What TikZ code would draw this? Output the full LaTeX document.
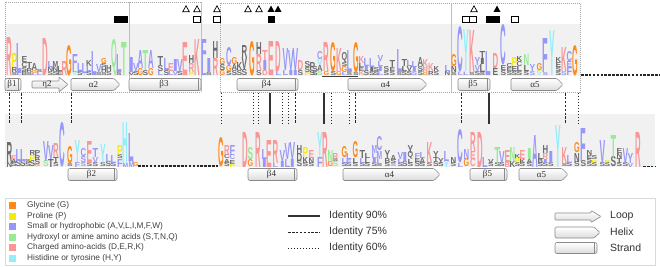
\documentclass[tikz,border=0pt]{standalone}
\usepackage{fontspec}
\setmainfont{Liberation Serif}
\setsansfont{Liberation Sans}
\usepackage{graphicx}
\definecolor{cG}{HTML}{FF8A1C}
\definecolor{cP}{HTML}{F5EA10}
\definecolor{cH}{HTML}{9797FA}
\definecolor{cO}{HTML}{96EB96}
\definecolor{cC}{HTML}{FA9696}
\definecolor{cY}{HTML}{92EEFA}
\definecolor{gr}{HTML}{6C6C6C}
\definecolor{band}{HTML}{F1F1F1}
\definecolor{ssedge}{HTML}{8A8A8A}
\newcommand\logocol[3]{%
  \xdef\stk{0}%
  \foreach \ltr/\hgt/\clr in {#3}{%
    \node[inner sep=0pt, outer sep=0pt, anchor=south, text=\clr] at (#2,{#1-\stk})
      {\resizebox{5.6pt}{\hgt pt}{\sffamily\bfseries\ltr}};
    \pgfmathparse{\stk+\hgt}\xdef\stk{\pgfmathresult}%
  }}
\newcommand\T[2]{\logocol{75.5}{#1}{#2}}
\newcommand\B[2]{\logocol{167}{#1}{#2}}
\newcommand\strandshape[5]{% name, x1, x2, yc, label
  \shadedraw[ssfill, rounded corners=2pt] (#2,#4-6) rectangle (#3,#4+6);
  \draw[ssline] (#3-2.5,#4-6) -- (#3-2.5,#4+6);
  \node[sslabel] (#1) at ({(#2+#3)/2-1},#4) {#5};}
\newcommand\helixshape[5]{%
  \shadedraw[ssfill, rounded corners=1.2pt] (#2,#4-6) -- (#3-6,#4-6) -- (#3,#4) -- (#3-6,#4+6) -- (#2,#4+6) -- cycle;
  \node[sslabel] (#1) at ({(#2+#3)/2-2},#4) {#5};}
\newcommand\loopshape[5]{%
  \shadedraw[ssfill, rounded corners=0.8pt] (#2,#4-3.5) -- (#3-9,#4-3.5) -- (#3-9,#4-7.5) -- (#3,#4) -- (#3-9,#4+7.5) -- (#3-9,#4+3.5) -- (#2,#4+3.5) -- cycle;
  \node[sslabel] (#1) at ({(#2+#3)/2-3},#4) {#5};}
\newcommand\opentri[2]{\draw[black, line width=0.7pt, line join=miter] (#1-3.3,#2+2.8) -- (#1+3.3,#2+2.8) -- (#1,#2-3.2) -- cycle;}
\newcommand\filltri[2]{\fill[black] (#1-3.5,#2+2.9) -- (#1+3.5,#2+2.9) -- (#1,#2-3.4) -- cycle;}
\newcommand\opensq[2]{\draw[black, line width=0.7pt] (#1-3.2,#2-3.2) rectangle (#1+3.2,#2+3.2);}
\newcommand\fillsq[2]{\fill[black] (#1-3.5,#2-3.5) rectangle (#1+3.5,#2+3.5);}
\tikzset{
  ssfill/.style={draw=ssedge, line width=0.6pt, top color=white, bottom color=black!14},
  ssline/.style={draw=ssedge, line width=0.6pt},
  sslabel/.style={inner sep=0pt, text=black!80, font=\fontsize{9}{10}\selectfont},
  idsolid/.style={line width=1.1pt, black!80},
  iddash/.style={line width=1pt, black!85, dash pattern=on 2.6pt off 1.3pt},
  iddot/.style={line width=1pt, black!85, dash pattern=on 0.9pt off 2.1pt},
  boxline/.style={gray!70, line width=0.5pt, dash pattern=on 1pt off 1pt},
  legtext/.style={inner sep=0pt, anchor=west, text=black!75, font=\sffamily\fontsize{8.3}{9}\selectfont},
  legtextb/.style={inner sep=0pt, anchor=west, text=black!80, font=\sffamily\fontsize{10.5}{11}\selectfont},
}
\begin{document}
\begin{tikzpicture}[x=1pt,y=-1pt]
\useasboundingbox (0,0) rectangle (660,267);
\fill[white] (0,0) rectangle (660,267);
% background bands
\fill[band] (5,24) rectangle (580,76);
\fill[band] (5,114) rectangle (655,167);
% dotted boxes
\draw[boxline] (5,2) rectangle (201,92);
\draw[gray!50, line width=0.5pt] (129,2) -- (129,92);
\draw[gray!50, line width=0.5pt] (201,2) -- (201,92);
\draw[boxline] (220,3) rectangle (580,92);
\draw[gray!50, line width=0.5pt] (451,3) -- (451,92);
% markers
\foreach \x in {186,197,217,248,259,474} {\opentri{\x}{9}}
\foreach \x in {271,278,497} {\filltri{\x}{9}}
\foreach \x in {117,124,271,489,496} {\fillsq{\x}{19.5}}
\foreach \x in {197,217,466,473,515} {\opensq{\x}{19.5}}
% ---------------- top logo
\T{9.5}{R/38/cC}
\T{14.5}{S/3/gr,R/5/gr,P/14/cP}
\T{19.5}{L/2/cH,L/30/cH}
\T{24.5}{B/4/gr,S/4/gr,C/5/gr,E/6/gr}
\T{29.5}{S/3/gr,R/4/gr,T/6/gr}
\T{34.5}{L/2/cH,G/3/cG,A/7/gr}
\T{39.5}{L/3/cH,S/3/gr}
\T{45.5}{D/37/cC}
\T{50.5}{S/4/gr,N/4/gr,L/6/cH}
\T{55.5}{S/4/gr,N/4/gr,M/6/gr}
\T{60}{E/4/gr,L/5/gr}
\T{64.5}{R/14/cC}
\T{69.5}{G/30/cG}
\T{75}{Y/3/cY,L/4/cH,F/14/cH}
\T{80}{S/4/gr,L/8/cH}
\T{84.5}{Y/2/cY,L/10/cH}
\T{89}{S/4/gr,L/5/cH,K/6/gr}
\T{94}{L/24/cH}
\T{99}{S/3/gr,V/8/cH}
\T{104}{S/3/gr,H/5/gr,S/4/gr,G/5/cG}
\T{109}{S/4/gr,H/6/gr}
\T{114}{Q/28/cO}
\T{119}{S/3/gr,L/18/cH}
\T{124.5}{T/33/cO}
\T{131.5}{V/3/gr,I/15/cH}
\T{136}{S/4/gr,V/8/cH}
\T{140.5}{G/7/cG,A/18/cH}
\T{145.5}{S/5/gr,T/20/cO}
\T{151}{G/7/cG,A/18/cH}
\T{160.5}{L/4/cH,S/6/gr,T/9/gr}
\T{166.5}{S/5/gr,L/12/cH}
\T{171}{L/4/cH,E/8/cC}
\T{175.5}{V/4/cH,I/12/cH}
\T{180}{S/4/gr,V/12/cH}
\T{185.5}{E/33/cC}
\T{191.5}{P/3/cP,R/9/cC,H/8/gr}
\T{197.5}{K/36/cC}
\T{204}{L/12/cH,F/24/cH}
\T{209}{S/3/gr,I/14/cH}
\T{215.5}{R/17/cC,H/17/gr}
\T{222.5}{G/5/cG,S/6/gr,G/6/cG}
\T{229}{S/4/gr,G/6/cG,C/18/cH}
\T{234.5}{S/5/gr,A/6/gr,G/7/cG}
\T{239.5}{S/5/gr,K/8/gr}
\T{244.5}{S/6/gr,V/12/gr,R/12/gr}
\T{252.5}{G/34/cG}
\T{259}{S/5/gr,R/16/cC,H/12/gr}
\T{265}{D/5/cC,I/10/cH,T/10/cC}
\T{271.5}{E/34/cC}
\T{278.5}{L/4/cH,D/30/cC}
\T{285.5}{L/5/cH,V/22/cH}
\T{291}{I/5/cH,V/20/cH}
\T{295.5}{I/5/cH,V/22/cH}
\T{300.5}{S/5/gr,D/10/cC}
\T{307.5}{P/3/cP,S/5/gr,S/6/gr}
\T{312.5}{S/5/gr,P/8/gr}
\T{315}{S/4/gr,S/5/gr}
\T{320}{S/4/cO,A/6/gr,V/6/cY,C/8/cH}
\T{326.5}{G/4/cG,R/29/cC}
\T{333.5}{S/4/gr,G/29/cG}
\T{339}{G/4/cG,K/23/cC}
\T{344.5}{L/3/cH,G/6/cG,S/4/gr,Q/8/gr}
\T{349.5}{S/3/gr,L/22/cH}
\T{356}{S/3/gr,G/30/cG}
\T{361.5}{K/4/cC,E/4/gr,L/4/gr,K/7/cC}
\T{366.5}{S/5/gr,I/4/cH,L/8/cH}
\T{372}{S/4/gr,I/4/gr,L/9/cH}
\T{376.5}{S/4/gr,S/4/gr}
\T{380.5}{L/4/cH,I/5/cH,L/5/cH,V/6/cH}
\T{386.5}{S/4/gr,S/5/gr}
\T{392.5}{S/4/gr,E/4/gr,T/7/gr}
\T{399.5}{S/3/gr,L/23/cH}
\T{404.5}{S/4/gr,L/5/gr,T/7/gr}
\T{409.5}{S/4/gr,V/5/gr,L/6/cH}
\T{414.5}{S/4/cH,I/4/cH,L/6/cH}
\T{420.5}{S/4/gr,S/5/gr,A/9/gr}
\T{425.5}{G/3/cG,R/5/cC,K/8/cC}
\T{431}{R/4/gr,K/8/cC}
\T{436.5}{S/4/gr,K/5/gr}
\T{447.5}{N/4/gr,L/6/cH}
\T{454}{S/3/gr,N/6/gr,G/12/cG}
\T{460.5}{L/3.5/cH,C/45/cH}
\T{466}{L/3.5/cH,Y/42/cY}
\T{472}{S/3/gr,K/42/cC}
\T{477.5}{S/4/gr,V/6/cH,Y/8/cH}
\T{482.5}{S/3/gr,L/8/gr,I/6/gr,T/7/gr}
\T{488.5}{L/24/cH}
\T{495.5}{E/7/gr,D/15/cC}
\T{503.5}{S/5/gr,E/5/gr,C/40/cH}
\T{509.5}{S/4/gr,E/4/gr,C/4/gr}
\T{514.5}{S/4/gr,E/5/gr,P/9/cP}
\T{519.5}{S/4/gr,L/5/gr,C/5/gr,K/5/gr}
\T{526.5}{S/4/gr,L/6/gr,N/11/cO}
\T{532.5}{S/4/cH,Y/7/cH}
\T{539.5}{Y/3/cY,P/2/cP,G/7/cG}
\T{545.5}{S/3/cH,F/34/cH}
\T{552.5}{Y/45/cY}
\T{558.5}{S/4/gr,S/4/gr,E/5/gr,K/5/gr}
\T{564}{S/4/cH,K/24/cC}
\T{569.5}{F/8/cH,E/6/cH,C/10/cH}
\T{575}{G/30/cG}
% ---------------- bottom logo
\B{9.5}{N/5/gr,R/20/gr}
\B{14}{S/4/gr,A/4/gr,E/4/cC}
\B{18.5}{S/6/gr,L/12/cH}
\B{23}{S/6/gr,L/12/cH}
\B{28}{S/4/gr,S/3/gr}
\B{32.5}{S/6/gr,P/6/cP,R/5/gr}
\B{37.5}{G/2/cG,S/5/gr,R/5/gr,P/5/gr}
\B{46}{S/6/cO,V/20/cH}
\B{51}{T/8/gr,V/14/cH}
\B{56}{S/4/gr,T/6/gr,R/14/cC}
\B{62.5}{C/44/cH}
\B{70}{S/3/gr,G/17/cG}
\B{77.5}{F/5/cH,Y/22/cY}
\B{83.5}{S/4/cH,S/6/cH,C/8/cH}
\B{89.5}{S/4/gr,E/22/cC}
\B{95.5}{S/4/gr,V/6/cH,T/9/cH}
\B{103}{S/4/gr,Y/19/cY}
\B{108.5}{S/5/gr,L/8/cH}
\B{113.5}{S/4/gr,L/8/cH}
\B{120}{F/8/cH,S/4/gr,P/10/cP}
\B{125.5}{M/4/cH,H/41/cY}
\B{131.5}{M/6/cH,L/28/cH}
\B{136}{G/4/cG}
\B{221}{G/29/cG}
\B{227}{S/4/gr,A/4/gr,C/4/gr,R/10/cC}
\B{232.5}{P/3/cP,E/4/gr,C/5/cH,F/10/cH}
\B{245}{D/35/cC}
\B{250.5}{G/7/cG,S/12/cO}
\B{258.5}{R/35/cC}
\B{264.5}{I/8/cH,L/10/cH}
\B{269.5}{E/27/cC}
\B{275.5}{L/4/cH,R/23/cC}
\B{282.5}{I/6/cH,V/11/cH}
\B{287.5}{L/8/cH,V/16/cH}
\B{292.5}{I/8/cH,V/17/cH}
\B{299.5}{S/6/gr,D/8/gr,H/8/gr}
\B{305.5}{S/4/gr,K/6/gr,P/10/cP}
\B{311.5}{S/4/gr,N/5/gr,E/8/cC}
\B{320}{F/10/cH,Y/25/cY}
\B{325.5}{R/35/cC}
\B{330.5}{G/5/cG,N/12/cO}
\B{335.5}{S/5/cO,S/3/gr,R/6/cC}
\B{344.5}{S/4/gr,L/5/cH,G/11/cG}
\B{349}{S/4/gr,E/4/cH,L/6/cH}
\B{355.5}{S/4/gr,L/5/gr,G/16/cG}
\B{362.5}{S/4/gr,L/5/cH,T/8/gr}
\B{367.5}{S/4/gr,L/5/gr,L/5/gr}
\B{374.5}{S/4/gr,I/5/cH,L/5/cH,M/8/cH}
\B{379.5}{S/3/gr,L/5/cH,M/8/cH,C/14/cH}
\B{387.5}{S/4/gr,B/5/gr,Y/8/gr}
\B{393.5}{S/3/cH,S/4/gr,A/5/gr}
\B{400.5}{S/4/gr,L/4/cH,V/7/cH}
\B{405}{S/5/gr,I/10/cH}
\B{410.5}{S/4/gr,L/4/gr,Q/6/gr,Y/8/gr}
\B{417.5}{S/5/gr,E/4/gr,F/5/cH}
\B{422.5}{S/4/gr,A/5/gr,L/6/cH}
\B{429.5}{S/4/gr,K/21/cC}
\B{436}{S/5/gr,T/5/gr,Y/6/gr}
\B{441}{S/4/gr,Y/5/gr}
\B{446.5}{Y/6/cY,L/10/cH}
\B{453.5}{S/4/gr,N/6/gr}
\B{460.5}{L/4/cH,C/33/cH}
\B{466.5}{G/8/cG,N/10/cH}
\B{473}{C/8/cC,E/8/cC,R/19/cC}
\B{480}{D/35/cC}
\B{485}{L/10/cH}
\B{491}{S/4/gr,V/4/gr}
\B{497.5}{S/4/gr,T/16/cO}
\B{502}{S/4/gr,V/12/cH}
\B{507.5}{B/5/cC,E/12/cC}
\B{512.5}{K/6/gr,N/14/cO}
\B{517.5}{S/4/gr,P/5/cP,K/4/gr}
\B{522.5}{S/4/gr,K/4/gr,E/9/cC}
\B{529.5}{S/4/gr,A/4/gr,I/11/cO}
\B{535}{A/32/cH}
\B{540.5}{S/4/gr,B/4/gr,L/6/gr}
\B{545.5}{S/4/gr,I/4/cH,R/6/cC,H/8/gr}
\B{551}{S/4/gr,I/12/cH}
\B{558.5}{Y/42/cY}
\B{564.5}{S/3/gr,K/17/cC}
\B{569.5}{S/4/gr,L/8/cH}
\B{577}{S/5/gr,N/9/gr,G/10/cG}
\B{583.5}{S/6/gr,F/33/cH}
\B{589.5}{S/4/gr,S/4/gr,E/4/gr,N/5/gr}
\B{594.5}{S/4/gr,P/3/cP,S/4/gr}
\B{602.5}{S/4/gr,V/23/cH}
\B{607.5}{S/4/gr,P/3/cP}
\B{613.5}{S/10/gr,T/22/cO}
\B{619.5}{S/4/gr,T/5/gr,N/5/gr,E/5/gr}
\B{625.5}{S/4/gr,V/15/cH}
\B{630.5}{V/4/cH,Y/10/cH}
\B{638.5}{R/35/cC}
% gap dashes and underline
\coordinate (td1) at (581,75); \coordinate (td2) at (660,75);
\draw[iddash, line width=1.1pt] (td1) -- (td2);
\coordinate (bd1) at (138,166); \coordinate (bd2) at (218,166);
\draw[iddash, line width=1.1pt] (bd1) -- (bd2);
\coordinate (bd3) at (643,166.5); \coordinate (bd4) at (656,166.5);
\draw[iddash, line width=1.1pt] (bd3) -- (bd4);
\coordinate (ul1) at (322,76.7); \coordinate (ul2) at (358,76.7);
\draw[black!75, line width=1.2pt] (ul1) -- (ul2);
% ---------------- secondary structure, top
\strandshape{sb1}{5}{21}{84.5}{β1}
\loopshape{se2}{32}{68}{84.5}{η2}
\helixshape{sa2}{71}{120}{84.5}{α2}
\strandshape{sb3}{129}{201}{84.5}{β3}
\strandshape{sb4}{237}{298}{84.5}{β4}
\helixshape{sa4}{348}{427}{84.5}{α4}
\strandshape{sb5}{458}{490}{84.5}{β5}
\helixshape{sa5}{511}{563}{84.5}{α5}
% ---------------- secondary structure, bottom
\strandshape{tb2}{68}{117}{174.5}{β2}
\strandshape{tb4}{248}{297}{174.5}{β4}
\helixshape{ta4}{343}{440}{174.5}{α4}
\strandshape{tb5}{470}{507}{174.5}{β5}
\helixshape{ta5}{519}{568}{174.5}{α5}
% ---------------- identity connectors
\foreach \x/\s [count=\i] in {9/iddash,21/iddash,71/iddash,221/iddot,253/iddot,258/iddot,270/idsolid,282/iddot,288/iddot,295/iddash,324/idsolid,331/iddot,349/iddot,355/iddash,461/iddash,489/idsolid,565/iddash,578/iddot}{
  \coordinate (ct\i) at (\x,93);
  \coordinate (cb\i) at (\x,124);
  \draw[\s] (ct\i) -- (cb\i);
}
% ---------------- legend
\draw[black!15, line width=0.8pt] (5,198) rectangle (655,265);
\foreach \c/\t [count=\i] in {cG/Glycine (G),cP/Proline (P),cH/{Small or hydrophobic (A,V,L,I,M,F,W)},cO/{Hydroxyl or amine amino acids (S,T,N,Q)},cC/{Charged amino-acids (D,E,R,K)},cY/{Histidine or tyrosine (H,Y)}}{
  \pgfmathsetmacro\yy{205.7+(\i-1)*10.5}
  \fill[\c] (9,\yy-3.6) rectangle (16,\yy+3.6);
  \node[legtext] (lg\i) at (27,\yy) {\t};
}
\coordinate (ls1) at (288,216); \coordinate (ls2) at (320,216);
\draw[idsolid] (ls1) -- (ls2);
\coordinate (ld1) at (288,232.5); \coordinate (ld2) at (320,232.5);
\draw[iddash] (ld1) -- (ld2);
\coordinate (lt1) at (288,248); \coordinate (lt2) at (320,248);
\draw[iddot] (lt1) -- (lt2);
\node[legtextb] (li1) at (329,216) {Identity 90\%};
\node[legtextb] (li2) at (329,232) {Identity 75\%};
\node[legtextb] (li3) at (329,248) {Identity 60\%};
\shadedraw[ssfill, rounded corners=0.8pt] (555,213) -- (591,213) -- (591,210.5) -- (601,216.5) -- (591,222.5) -- (591,220) -- (555,220) -- cycle;
\shadedraw[ssfill, rounded corners=1.2pt] (555,227) -- (594,227) -- (600,232.5) -- (594,238) -- (555,238) -- cycle;
\shadedraw[ssfill, rounded corners=2pt] (555,242.5) rectangle (597,253.5);
\draw[ssline] (594.5,242.5) -- (594.5,253.5);
\node[legtextb] (lk1) at (610,216) {Loop};
\node[legtextb] (lk2) at (610,232) {Helix};
\node[legtextb] (lk3) at (610,248) {Strand};
\end{tikzpicture}
\end{document}
